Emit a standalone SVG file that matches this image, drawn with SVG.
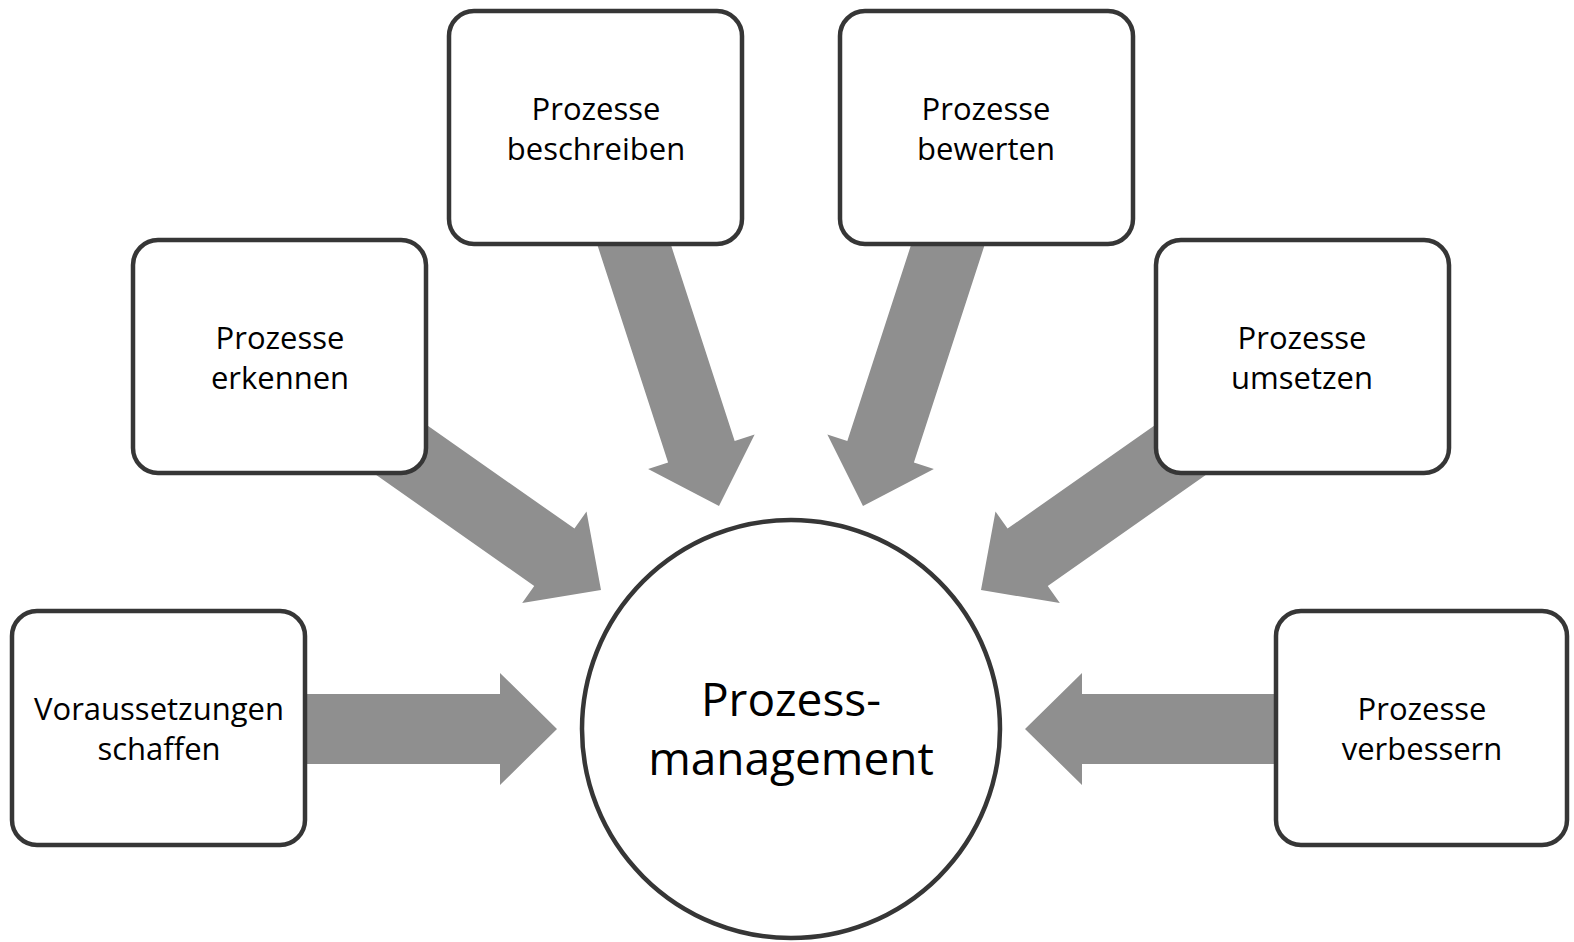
<svg xmlns="http://www.w3.org/2000/svg" width="1574" height="942" viewBox="0 0 1574 942">
<defs>
<style>
.box{fill:#ffffff;stroke:#363636;stroke-width:4.5}
.arr{fill:#8f8f8f}
.t{font-family:"Open Sans","Noto Sans","DejaVu Sans",sans-serif;font-size:31px;fill:#000;text-anchor:middle}
.tc{font-family:"Open Sans","Noto Sans","DejaVu Sans",sans-serif;font-size:46px;fill:#000;text-anchor:middle}
</style>
<polygon id="arrH" points="-267,-35 -57,-35 -57,-56 0,0 -57,56 -57,35 -267,35"/>
<polygon id="arrD" points="-280,-35 -57,-35 -57,-56 0,0 -57,56 -57,35 -280,35"/>
<polygon id="arrV" points="-320,-35 -57,-35 -57,-56 0,0 -57,56 -57,35 -320,35"/>
</defs>
<rect width="1574" height="942" fill="#ffffff"/>
<g id="connectors" class="arr">
<use href="#arrH" transform="translate(557,729)"/>
<use href="#arrD" transform="translate(601,590) rotate(35.06)"/>
<use href="#arrV" transform="translate(719,506) rotate(72)"/>
<use href="#arrV" transform="translate(863,506) rotate(108)"/>
<use href="#arrD" transform="translate(981,590) rotate(144.94)"/>
<use href="#arrH" transform="translate(1025,729) rotate(180)"/>
</g>
<g id="node-voraussetzungen">
<rect class="box" x="12" y="611" width="293" height="234" rx="25"/>
<text class="t" x="159" y="720">Voraussetzungen</text>
<text class="t" x="159" y="760">schaffen</text>
</g>
<g id="node-erkennen">
<rect class="box" x="133" y="240" width="293" height="233" rx="25"/>
<text class="t" x="280" y="349">Prozesse</text>
<text class="t" x="280" y="389">erkennen</text>
</g>
<g id="node-beschreiben">
<rect class="box" x="449" y="11" width="293" height="233" rx="25"/>
<text class="t" x="596" y="120">Prozesse</text>
<text class="t" x="596" y="160">beschreiben</text>
</g>
<g id="node-bewerten">
<rect class="box" x="840" y="11" width="293" height="233" rx="25"/>
<text class="t" x="986" y="120">Prozesse</text>
<text class="t" x="986" y="160">bewerten</text>
</g>
<g id="node-umsetzen">
<rect class="box" x="1156" y="240" width="293" height="233" rx="25"/>
<text class="t" x="1302" y="349">Prozesse</text>
<text class="t" x="1302" y="389">umsetzen</text>
</g>
<g id="node-verbessern">
<rect class="box" x="1276" y="611" width="291" height="234" rx="25"/>
<text class="t" x="1422" y="720">Prozesse</text>
<text class="t" x="1422" y="760">verbessern</text>
</g>
<g id="node-prozessmanagement">
<circle class="box" cx="791" cy="729" r="209"/>
<text class="tc" x="791" y="716">Prozess-</text>
<text class="tc" x="791" y="775">management</text>
</g>
</svg>
